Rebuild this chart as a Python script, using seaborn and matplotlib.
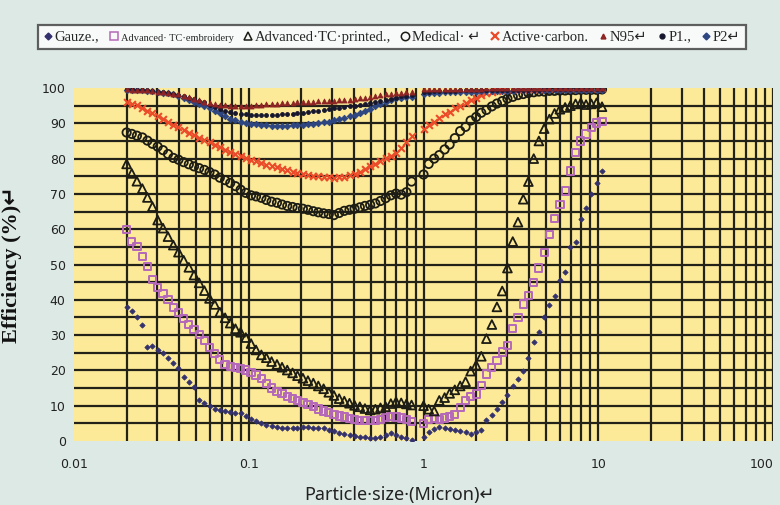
import pandas as pd
import matplotlib
matplotlib.use("Agg")
import matplotlib.pyplot as plt
from matplotlib.lines import Line2D
from matplotlib.ticker import NullLocator
import seaborn as sns

sns.set_style("white")
plt.rcParams["font.family"] = ["DejaVu Sans"]

# particle size channels (micron): fine range and coarse range
size_fine = [0.0200, 0.0214, 0.0229, 0.0246, 0.0263, 0.0281, 0.0301, 0.0323,
             0.0345, 0.0370, 0.0396, 0.0424, 0.0454, 0.0486, 0.0520, 0.0557,
             0.0596, 0.0638, 0.0683, 0.0732, 0.0783, 0.0839, 0.0898, 0.0961,
             0.103, 0.110, 0.118, 0.126, 0.135, 0.145, 0.155, 0.166,
             0.178, 0.190, 0.204, 0.218, 0.234, 0.250, 0.268, 0.287,
             0.307, 0.329, 0.352, 0.377, 0.403, 0.432, 0.462, 0.495,
             0.530, 0.567, 0.607, 0.650, 0.696, 0.745, 0.798, 0.854]
size_coarse = [1.00, 1.07, 1.15, 1.23, 1.32, 1.41, 1.51,
               1.62, 1.74, 1.86, 2.00, 2.14, 2.29, 2.46,
               2.63, 2.82, 3.02, 3.24, 3.47, 3.72, 3.98,
               4.27, 4.57, 4.90, 5.25, 5.62, 6.03, 6.46,
               6.92, 7.41, 7.94, 8.51, 9.12, 9.77, 10.5]

# efficiency (%) per filter
gauze_fine = [38.0, 36.8, 35.0, 33.0, 26.5, 26.8, 25.8, 24.9,
              23.6, 22.2, 20.6, 18.2, 16.6, 15.2, 11.6, 10.8,
              9.8, 9.2, 8.8, 8.4, 8.2, 8.0, 7.8, 7.0,
              6.2, 5.8, 5.2, 4.6, 4.2, 4.0, 3.8, 3.7,
              3.6, 3.8, 4.0, 4.0, 3.8, 3.7, 3.6, 3.2,
              2.7, 2.3, 2.0, 1.6, 1.3, 1.2, 1.0, 0.9,
              0.8, 1.2, 1.7, 2.2, 1.8, 1.2, 0.8, 0.3]
gauze_coarse = [1.0, 2.5, 3.5, 4.0, 3.8, 3.5, 3.0,
                2.8, 2.5, 2.0, 2.5, 3.0, 6.0, 7.5,
                9.0, 11.0, 13.0, 15.5, 17.5, 19.8, 23.5,
                28.0, 31.0, 35.0, 38.5, 41.0, 45.6, 48.0,
                55.0, 56.5, 63.0, 66.0, 70.0, 73.0, 76.5]

embroidery_fine = [60.0, 56.5, 55.2, 52.2, 49.4, 45.8, 43.6, 41.8,
                   40.0, 37.9, 36.4, 34.6, 33.0, 31.5, 30.1, 28.4,
                   26.6, 24.8, 23.0, 21.6, 21.0, 20.8, 20.6, 20.1,
                   19.5, 18.7, 17.6, 16.3, 15.0, 14.1, 13.4, 12.7,
                   12.1, 11.5, 10.9, 10.3, 9.8, 9.1, 8.5, 8.0,
                   7.6, 7.1, 6.8, 6.4, 6.1, 5.9, 5.9, 5.9,
                   5.9, 6.2, 6.6, 6.9, 6.8, 6.5, 6.1, 5.5]
embroidery_coarse = [5.0, 6.0, 6.4, 6.0, 6.5, 6.9, 7.5,
                     9.5, 11.5, 12.6, 13.3, 15.8, 19.0, 20.8,
                     22.8, 25.2, 27.0, 31.8, 35.0, 38.8, 41.3,
                     45.0, 49.0, 53.5, 58.5, 63.0, 66.9, 70.8,
                     76.5, 81.8, 85.0, 87.0, 88.9, 90.1, 90.5]

printed_fine = [78.5, 75.8, 73.6, 71.5, 69.0, 66.4, 62.6, 60.3,
                57.9, 55.5, 53.5, 51.2, 49.2, 47.0, 44.8, 42.6,
                40.4, 38.7, 36.5, 34.9, 33.4, 31.8, 30.8, 29.3,
                27.6, 25.8, 24.4, 23.6, 22.5, 21.7, 20.9, 20.1,
                19.3, 18.5, 17.8, 17.1, 16.4, 15.6, 14.8, 13.8,
                12.9, 12.0, 11.3, 10.7, 10.1, 9.7, 9.2, 8.8,
                9.0, 9.4, 9.7, 10.6, 11.1, 10.8, 10.5, 10.2]
printed_coarse = [10.0, 9.0, 8.5, 11.5, 12.3, 13.5, 14.5,
                  15.6, 16.8, 19.8, 21.5, 24.0, 29.0, 33.0,
                  38.0, 42.5, 49.0, 56.5, 62.0, 68.5, 73.5,
                  80.0, 85.0, 88.5, 91.2, 92.8, 94.0, 94.5,
                  95.0, 95.5, 95.8, 95.3, 95.5, 95.8, 94.7]

medical_fine = [87.4, 87.0, 86.5, 86.0, 85.1, 84.2, 83.4, 82.4,
                81.3, 80.2, 79.7, 79.0, 78.4, 77.8, 77.3, 76.8,
                76.2, 75.5, 74.6, 73.9, 73.1, 72.2, 71.2, 70.3,
                69.6, 69.3, 68.9, 68.3, 67.8, 67.5, 67.0, 66.6,
                66.3, 66.0, 65.8, 65.5, 65.1, 64.8, 64.5, 64.3,
                64.0, 64.6, 65.2, 65.5, 65.8, 66.2, 66.6, 66.9,
                67.3, 68.0, 68.8, 69.6, 70.1, 69.8, 70.5, 73.5]
medical_coarse = [75.5, 78.5, 80.0, 81.0, 82.6, 84.0, 85.8,
                  87.8, 89.0, 90.8, 91.8, 93.0, 93.8, 94.8,
                  95.6, 96.3, 97.0, 97.5, 98.0, 98.3, 98.6,
                  98.8, 99.0, 99.0, 99.2, 99.2, 99.3, 99.3,
                  99.4, 99.4, 99.5, 99.5, 99.5, 99.5, 99.6]

carbon_fine = [96.0, 95.6, 95.1, 94.4, 93.6, 92.8, 92.0, 91.2,
               90.4, 89.6, 88.9, 88.1, 87.3, 86.6, 85.9, 85.2,
               84.6, 84.0, 83.2, 82.5, 81.9, 81.3, 80.7, 80.2,
               79.7, 79.3, 78.8, 78.3, 77.9, 77.5, 77.1, 76.7,
               76.3, 76.0, 75.7, 75.4, 75.2, 75.0, 74.8, 74.7,
               74.6, 74.7, 74.9, 75.3, 75.7, 76.3, 77.0, 77.8,
               78.6, 79.3, 80.1, 80.8, 81.5, 83.0, 84.7, 86.3]
carbon_coarse = [88.5, 89.5, 90.5, 91.5, 92.5, 93.3, 94.2,
                 95.0, 95.8, 96.6, 97.3, 98.0, 98.5, 98.9,
                 99.2, 99.4, 99.6, 99.7, 99.7, 99.8, 99.8,
                 99.8, 99.8, 99.9, 99.9, 99.9, 99.9, 99.9,
                 99.9, 99.9, 99.9, 99.9, 99.9, 99.9, 99.9]

n95_fine = [99.6, 99.5, 99.5, 99.4, 99.3, 99.2, 99.0, 98.8,
            98.6, 98.4, 98.2, 97.8, 97.4, 97.0, 96.6, 96.1,
            95.8, 95.5, 95.3, 95.1, 95.0, 95.0, 94.9, 95.0,
            95.0, 95.1, 95.3, 95.5, 95.6, 95.6, 95.7, 95.8,
            95.8, 95.9, 96.0, 96.0, 96.1, 96.2, 96.3, 96.3,
            96.4, 96.5, 96.6, 96.7, 96.9, 97.1, 97.3, 97.5,
            97.8, 98.0, 98.2, 98.4, 98.6, 98.7, 98.9, 99.0]
n95_coarse = [99.6, 99.6, 99.7, 99.7, 99.7, 99.8, 99.8,
              99.8, 99.8, 99.8, 99.8, 99.8, 99.9, 99.9,
              99.9, 99.9, 99.9, 99.9, 99.9, 99.9, 99.9,
              99.9, 99.9, 99.9, 99.9, 99.9, 99.9, 99.9,
              99.9, 99.9, 99.9, 99.9, 99.9, 99.9, 99.9]

p1_fine = [99.6, 99.6, 99.5, 99.4, 99.3, 99.2, 99.0, 98.8,
           98.6, 98.4, 98.1, 97.7, 97.3, 96.9, 96.4, 95.9,
           95.3, 94.7, 94.1, 93.6, 93.2, 92.9, 92.7, 92.5,
           92.4, 92.4, 92.3, 92.3, 92.4, 92.4, 92.5, 92.6,
           92.7, 92.8, 93.0, 93.2, 93.4, 93.6, 93.8, 94.0,
           94.2, 94.4, 94.6, 94.8, 95.0, 95.2, 95.4, 95.7,
           96.0, 96.3, 96.6, 96.9, 97.3, 97.6, 97.8, 98.0]
p1_coarse = [99.0, 99.0, 99.1, 99.1, 99.2, 99.2, 99.2,
             99.3, 99.3, 99.3, 99.3, 99.4, 99.4, 99.4,
             99.4, 99.4, 99.5, 99.5, 99.5, 99.5, 99.5,
             99.5, 99.5, 99.6, 99.6, 99.6, 99.6, 99.6,
             99.6, 99.6, 99.6, 99.6, 99.6, 99.6, 99.6]

p2_fine = [99.5, 99.5, 99.4, 99.3, 99.2, 99.1, 98.9, 98.7,
           98.5, 98.2, 97.8, 97.3, 96.7, 96.1, 95.5, 94.9,
           94.2, 93.5, 92.8, 92.0, 91.3, 90.8, 90.4, 90.1,
           89.9, 89.7, 89.5, 89.4, 89.3, 89.3, 89.3, 89.3,
           89.4, 89.5, 89.6, 89.8, 89.9, 90.1, 90.3, 90.5,
           90.8, 91.1, 91.6, 92.0, 92.4, 92.9, 93.5, 94.1,
           94.8, 95.4, 96.0, 96.6, 97.1, 97.3, 97.4, 97.5]
p2_coarse = [98.4, 98.5, 98.6, 98.7, 98.8, 98.8, 98.9,
             98.9, 99.0, 99.0, 99.0, 99.1, 99.1, 99.1,
             99.2, 99.2, 99.2, 99.2, 99.3, 99.3, 99.3,
             99.3, 99.3, 99.3, 99.4, 99.4, 99.4, 99.4,
             99.4, 99.4, 99.4, 99.4, 99.4, 99.4, 99.4]

legend_labels = ["Gauze.,", "Advanced\u00b7 TC\u00b7embroidery", "Advanced\u00b7TC\u00b7printed.,",
                 "Medical\u00b7 \u21b5", "Active\u00b7carbon.", "N95\u21b5", "P1.,", "P2\u21b5"]

series = {
    "gauze": (gauze_fine, gauze_coarse),
    "embroidery": (embroidery_fine, embroidery_coarse),
    "printed": (printed_fine, printed_coarse),
    "medical": (medical_fine, medical_coarse),
    "carbon": (carbon_fine, carbon_coarse),
    "n95": (n95_fine, n95_coarse),
    "p1": (p1_fine, p1_coarse),
    "p2": (p2_fine, p2_coarse),
}
frames = []
for key, (fine, coarse) in series.items():
    frames.append(pd.DataFrame({"filter": key, "size": size_fine, "eff": fine}))
    frames.append(pd.DataFrame({"filter": key, "size": size_coarse, "eff": coarse}))
df = pd.concat(frames, ignore_index=True)

# marker style per filter: marker, size (pt^2), colour, hollow, edge width
styles = {
    "gauze": ("D", 7, "#33306e", False, 0.0),
    "embroidery": ("s", 27, "#b468b8", True, 1.4),
    "printed": ("^", 40, "#1c1c14", True, 1.3),
    "medical": ("o", 36, "#1c1c14", True, 1.3),
    "carbon": ("x", 24, "#ec4b2a", False, 1.5),
    "p2": ("D", 11, "#2d4682", False, 0.0),
    "p1": ("o", 8, "#16162e", False, 0.0),
    "n95": ("^", 13, "#8e2424", False, 0.0),
}

fig = plt.figure(figsize=(7.8, 5.05), dpi=100, facecolor="#dde9e5")
ax = fig.add_axes([0.0949, 0.1267, 0.8962, 0.699])
ax.set_facecolor("#fcea98")
ax.set_xscale("log")
ax.set_xlim(0.01, 100)
ax.set_ylim(0, 100)

grid_x = [k * 10.0 ** d for d in (-2, -1, 0, 1) for k in range(2, 11)]
for v in grid_x:
    ax.axvline(v, color="#232218", lw=1.6, zorder=1)
for v in range(5, 100, 5):
    ax.axhline(v, color="#232218", lw=1.6, zorder=1)

for key, (marker, s, color, hollow, lw) in styles.items():
    sub = df[df["filter"] == key]
    if hollow:
        sns.scatterplot(data=sub, x="size", y="eff", ax=ax, marker=marker, s=s,
                        color=color, facecolor="none", edgecolor=color,
                        linewidth=lw, zorder=3, legend=False)
    elif marker == "x":
        sns.scatterplot(data=sub, x="size", y="eff", ax=ax, marker=marker, s=s,
                        color=color, linewidth=lw, zorder=3, legend=False)
    else:
        sns.scatterplot(data=sub, x="size", y="eff", ax=ax, marker=marker, s=s,
                        color=color, edgecolor=color, linewidth=0.6, zorder=3,
                        legend=False)

for sp in ax.spines.values():
    sp.set_visible(False)
ax.set_xticks([0.01, 0.1, 1, 10, 100], labels=["0.01", "0.1", "1", "10", "100"])
ax.get_xticklabels()[-1].set_horizontalalignment("right")
ax.xaxis.set_minor_locator(NullLocator())
ax.set_yticks(range(0, 101, 10))
ax.tick_params(axis="both", length=0, labelsize=9, labelcolor="#222222")
ax.tick_params(axis="x", pad=12)
ax.tick_params(axis="y", pad=6)

ax.set_xlabel("Particle\u00b7size\u00b7(Micron)\u21b5", fontsize=13,
              family=["Noto Sans", "DejaVu Sans"], color="#222222")
ax.xaxis.set_label_coords(0.466, -0.128)
ax.set_ylabel("Efficiency (%)\u21b5", fontsize=16, fontweight="bold",
              family=["Liberation Serif", "DejaVu Sans"], color="#111111")
ax.yaxis.set_label_coords(-0.074, 0.5)

handles = []
for key in ["gauze", "embroidery", "printed", "medical", "carbon", "n95", "p1", "p2"]:
    marker, s, color, hollow, lw = styles[key]
    if hollow:
        h = Line2D([], [], ls="none", marker=marker, ms=6, mfc="none", mec=color, mew=1.1)
    elif marker == "x":
        h = Line2D([], [], ls="none", marker=marker, ms=6, color=color, mew=1.6)
    else:
        h = Line2D([], [], ls="none", marker=marker, ms=3.5, color=color)
    handles.append(h)

leg = fig.legend(handles, legend_labels, loc="center", bbox_to_anchor=(392 / 780, 1 - 37 / 505),
                 ncol=8, frameon=True, fancybox=False, edgecolor="#3a3a3a",
                 handlelength=0.6, handletextpad=0.15, columnspacing=0.7, borderpad=0.4,
                 prop={"family": ["Liberation Serif", "DejaVu Sans"], "size": 10.5})
leg.get_frame().set_linewidth(1.6)
leg.get_frame().set_facecolor("white")
leg.get_texts()[1].set_fontsize(7.5)

fig.savefig("out.png", dpi=100, facecolor=fig.get_facecolor())
